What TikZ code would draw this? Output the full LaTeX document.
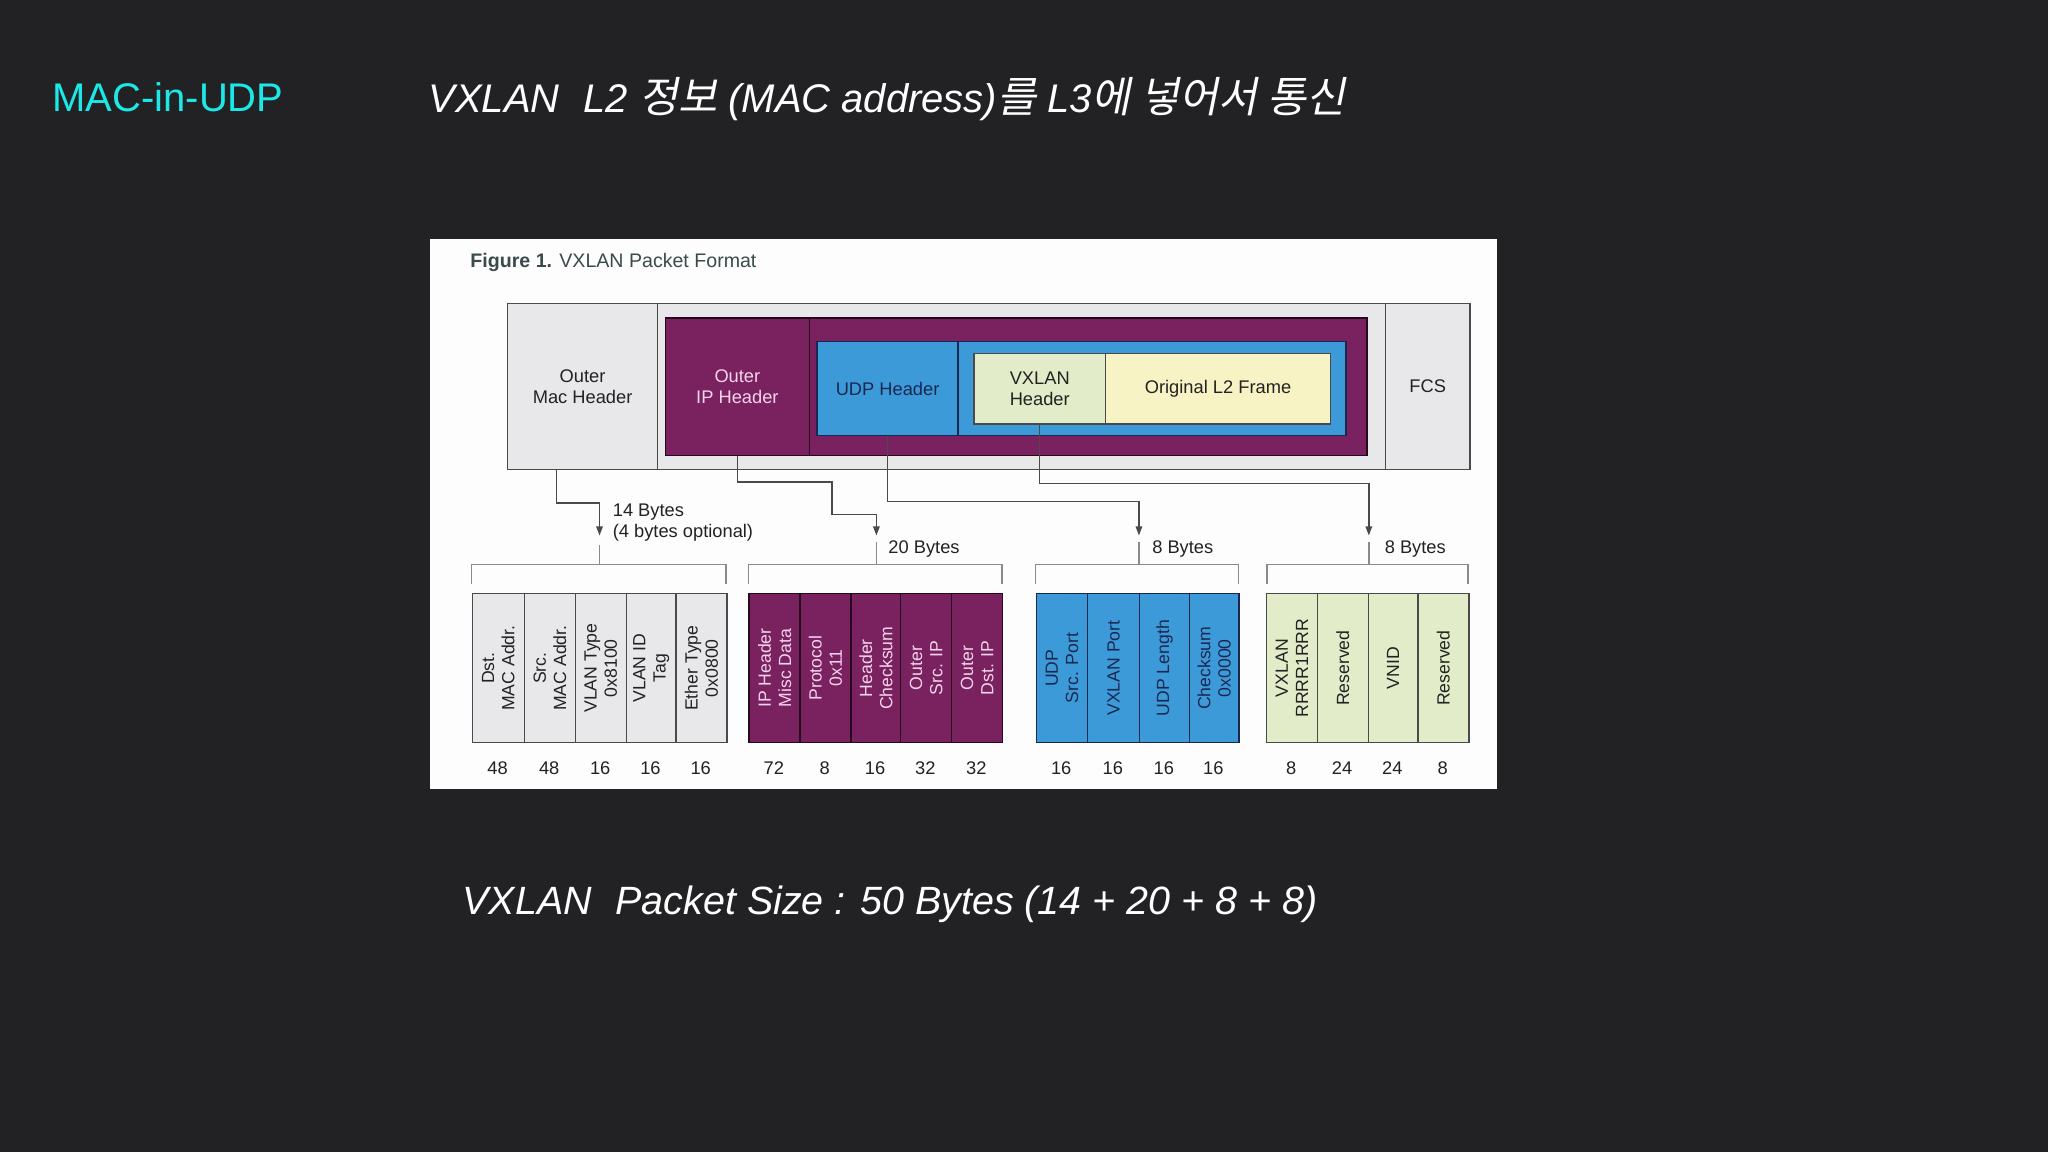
\documentclass[tikz,border=0pt]{standalone}
\usepackage{fontspec}
\setmainfont{Liberation Sans}
\newfontfamily\kr[FakeSlant=0.2]{Noto Sans CJK KR}
\usetikzlibrary{arrows.meta}
\definecolor{bgc}{HTML}{222224}
\definecolor{cyant}{HTML}{1CE8E8}
\definecolor{panelc}{HTML}{FDFDFD}
\definecolor{greyf}{HTML}{E8E8EA}
\definecolor{purpf}{HTML}{7A2160}
\definecolor{bluef}{HTML}{3D9AD8}
\definecolor{greenf}{HTML}{E2ECC9}
\definecolor{yellf}{HTML}{F8F3C4}
\definecolor{linec}{HTML}{4A4A4C}
\definecolor{brkc}{HTML}{8A8A8C}
\definecolor{pinkt}{HTML}{F4D4EC}
\definecolor{navyt}{HTML}{1A2850}
\definecolor{figtc}{HTML}{3B4A4B}
\definecolor{darkt}{HTML}{222222}
\newcommand\labf{\fontsize{14}{16}\selectfont}
\newcommand\fldf{\fontsize{13.5}{15.5}\selectfont}
\newcommand\krs{\kr\upshape\fontsize{32.5}{36}\selectfont}
\tikzset{
  bx/.style={draw=linec, line width=1.1pt, inner sep=0pt, anchor=north west, align=center, font=\labf},
  gbx/.style={bx, fill=greyf, text=darkt},
  pbx/.style={bx, draw=black!70!purpf, fill=purpf, text=pinkt},
  bbx/.style={bx, draw=navyt, fill=bluef, text=navyt},
  gnbx/.style={bx, fill=greenf, text=darkt},
  ybx/.style={bx, fill=yellf, text=darkt},
  conn/.style={draw=linec, line width=1.1pt, -{Triangle[length=7pt,width=5pt]}},
  brk/.style={draw=brkc, line width=1.1pt},
  rotl/.style={rotate=90, align=center, font=\fldf, inner sep=0pt},
  numl/.style={font=\labf, text=darkt, inner sep=0pt},
  bytel/.style={font=\labf, text=darkt, anchor=west, inner sep=0pt, align=left}
}
\begin{document}
\begin{tikzpicture}[x=1pt,y=-1pt]
\fill[bgc] (0,0) rectangle (1568,882);
\useasboundingbox (0,0) rectangle (1568,882);

% titles
\node[anchor=base west, inner sep=0pt, text=cyant, font=\fontsize{30.6}{36}\selectfont] (ttl) at (40,85) {MAC-in-UDP};
\node[anchor=base west, inner sep=0pt, text=white, font=\fontsize{30.6}{36}\selectfont\itshape] (head) at (328,86)
  {VXLAN\hspace{0.6em}L2 {\krs 정보} (MAC address){\krs 를} L3{\krs 에 넣어서 통신}};
\node[anchor=base west, inner sep=0pt, text=white, font=\fontsize{30.2}{36}\selectfont\itshape] (foot) at (354,700)
  {VXLAN\hspace{0.6em}Packet Size : 50 Bytes (14 + 20 + 8 + 8)};

% panel
\node[fill=panelc, anchor=north west, minimum width=817pt, minimum height=421pt, inner sep=0pt] (panel) at (329,183) {};
\node[anchor=base west, inner sep=0pt, text=figtc, font=\fontsize{15}{18}\selectfont] (figt) at (360,205)
  {\textbf{Figure 1.} VXLAN Packet Format};

% outer frame
\node[gbx, minimum width=115pt, minimum height=127pt] (omac) at (388,232) {Outer\\Mac Header};
\node[gbx, minimum width=557pt, minimum height=127pt] (omid) at (503,232) {};
\node[gbx, minimum width=65pt, minimum height=127pt] (fcs) at (1060,232) {FCS};
% outer IP
\node[pbx, minimum width=537pt, minimum height=105pt] (purp) at (509,243) {};
\node[pbx, minimum width=110pt, minimum height=105pt] (oip) at (509,243) {Outer\\IP Header};
% UDP
\node[bbx, minimum width=405pt, minimum height=72pt] (blue) at (625,261) {};
\node[bbx, minimum width=108pt, minimum height=72pt] (udp) at (625,261) {UDP Header};
% VXLAN header + L2 frame
\node[gnbx, minimum width=101pt, minimum height=54pt] (vxh) at (745,270) {VXLAN\\Header};
\node[ybx, minimum width=172pt, minimum height=54pt] (l2) at (846,270) {Original L2 Frame};

% connector coordinates
\coordinate (k1) at (426,385);
\coordinate (k2a) at (637,369);
\coordinate (k2b) at (671,394);
\coordinate (k3) at (872,384);
\coordinate (k4) at (1048,370);
\coordinate (tip1) at (459,410);
\coordinate (tip2) at (671,410);
\coordinate (tip3) at (872,410);
\coordinate (tip4) at (1048,410);

\draw[conn] (omac.south -| k1) -- (k1) -| (tip1);
\draw[conn] (oip.south) |- (k2a) |- (k2b) -- (tip2);
\draw[conn] (udp.south) |- (k3) -- (tip3);
\draw[conn] (vxh.south) |- (k4) -- (tip4);

% brackets
\draw[brk] (361,447) |- (556,432) -- (556,447);  \draw[brk] (459,432) -- (459,417);
\draw[brk] (573,447) |- (767,432) -- (767,447);  \draw[brk] (671,432) -- (671,415);
\draw[brk] (793,447) |- (948,432) -- (948,447);  \draw[brk] (872,432) -- (872,415);
\draw[brk] (970,447) |- (1124,432) -- (1124,447); \draw[brk] (1048,432) -- (1048,415);

\node[bytel] (b1) at (469,400) {14 Bytes\\(4 bytes optional)};
\node[bytel] (b2) at (680,420) {20 Bytes};
\node[bytel] (b3) at (882,420) {8 Bytes};
\node[bytel] (b4) at (1060,420) {8 Bytes};

% field rows
\foreach \xa/\xb/\txt/\num [count=\i] in {
  361/401/{Dst.\\MAC Addr.}/48, 401/440/{Src.\\MAC Addr.}/48, 440/479/{VLAN Type\\0x8100}/16,
  479/517/{VLAN ID\\Tag}/16, 517/556/{Ether Type\\0x0800}/16}{
  \node[gbx, minimum width={(\xb-\xa)*1pt}, minimum height=114pt] (fa\i) at (\xa,454) {};
  \node[rotl, text=darkt] (la\i) at (fa\i.center) {\txt};
  \node[numl] (na\i) at ({(\xa+\xb)/2},588) {\num};
}
\foreach \xa/\xb/\txt/\num [count=\i] in {
  573/612/{IP Header\\Misc Data}/72, 612/651/{Protocol\\0x11}/8, 651/689/{Header\\Checksum}/16,
  689/728/{Outer\\Src. IP}/32, 728/767/{Outer\\Dst. IP}/32}{
  \node[pbx, minimum width={(\xb-\xa)*1pt}, minimum height=114pt] (fb\i) at (\xa,454) {};
  \node[rotl, text=pinkt] (lb\i) at (fb\i.center) {\txt};
  \node[numl] (nb\i) at ({(\xa+\xb)/2},588) {\num};
}
\foreach \xa/\xb/\txt/\num [count=\i] in {
  793/832/{UDP\\Src. Port}/16, 832/872/{VXLAN Port}/16, 872/910/{UDP Length}/16,
  910/948/{Checksum\\0x0000}/16}{
  \node[bbx, minimum width={(\xb-\xa)*1pt}, minimum height=114pt] (fc\i) at (\xa,454) {};
  \node[rotl, text=navyt] (lc\i) at (fc\i.center) {\txt};
  \node[numl] (nc\i) at ({(\xa+\xb)/2},588) {\num};
}
\foreach \xa/\xb/\txt/\num [count=\i] in {
  969/1008/{VXLAN\\RRRR1RRR}/8, 1008/1047/{Reserved}/24, 1047/1085/{VNID}/24,
  1085/1124/{Reserved}/8}{
  \node[gnbx, minimum width={(\xb-\xa)*1pt}, minimum height=114pt] (fd\i) at (\xa,454) {};
  \node[rotl, text=darkt] (ld\i) at (fd\i.center) {\txt};
  \node[numl] (nd\i) at ({(\xa+\xb)/2},588) {\num};
}
\end{tikzpicture}
\end{document}
